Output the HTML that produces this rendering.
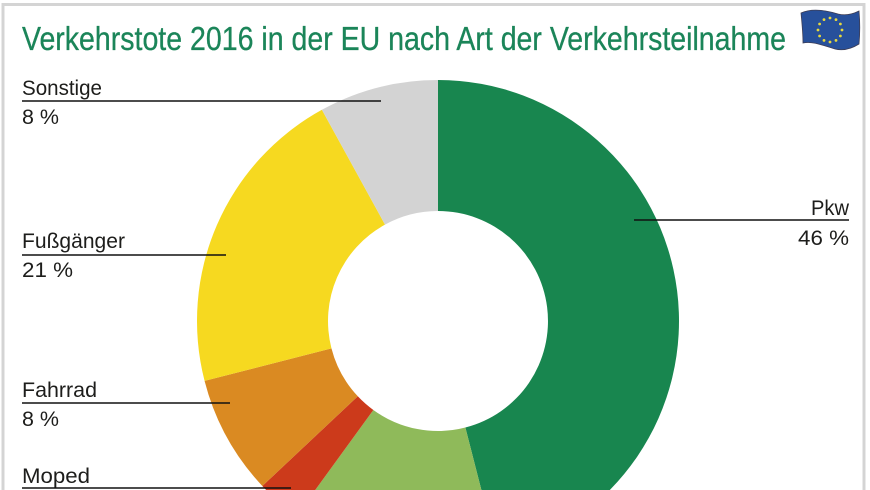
<!DOCTYPE html>
<html lang="de">
<head>
<meta charset="utf-8">
<title>Verkehrstote 2016 in der EU</title>
<style>
html,body{margin:0;padding:0;background:#fff;width:870px;height:490px;overflow:hidden}
svg{display:block;font-family:"Liberation Sans",sans-serif}
</style>
</head>
<body>
<svg id="chart" width="870" height="490" viewBox="0 0 870 490">
  <rect x="0" y="0" width="870" height="490" fill="#fff"/>
  <path d="M3 490V4.500H864V490" fill="none" stroke="#d4d4d4" stroke-width="3"/>
  <text x="22" y="50" font-size="33" fill="#1b8559" stroke="#1b8559" stroke-width="0.3" textLength="764" lengthAdjust="spacingAndGlyphs">Verkehrstote 2016 in der EU nach Art der Verkehrsteilnahme</text>
  <g>
    <path d="M801 13C812 8 825 10 838 14C846 16 853 14 859 11C860 22 860 33 859 44C851 49 843 51 835 49C822 45 812 41 803 43C803 33 802 23 801 13Z" fill="#27509b" stroke="#3d3d55" stroke-width="0.8"/>
    <g id="flag-stars" fill="#e8d93c"></g>
  </g>
  <g id="slices"></g>
  <g id="labels"></g>
</svg>
<script>
const categories = ['Pkw', 'Motorrad', 'Moped', 'Fahrrad', 'Fußgänger', 'Sonstige'];
const shares = [46, 14, 3, 8, 21, 8];
const shareLabels = ['46 %', '14 %', '3 %', '8 %', '21 %', '8 %'];
const colors = ['#18864f', '#8fba5a', '#cc3a1b', '#da8a22', '#f6d920', '#d3d3d3'];

const NS = 'http://www.w3.org/2000/svg';
const CX = 438, CY = 321, R_OUT = 241, R_IN = 110;
const total = shares.reduce((a, b) => a + b, 0);

function angleOf(v) { return v / total * Math.PI * 2; }
function polar(r, a) { return [CX + r * Math.sin(a), CY - r * Math.cos(a)]; }
function fmt(p) { return p[0].toFixed(2) + ' ' + p[1].toFixed(2); }

const sliceLayer = document.getElementById('slices');
let running = 0;
shares.forEach(function (v, i) {
  const a0 = angleOf(running);
  const a1 = angleOf(running + v);
  running += v;
  const large = a1 - a0 > Math.PI ? 1 : 0;
  const d = 'M' + fmt(polar(R_OUT, a0)) +
    'A' + R_OUT + ' ' + R_OUT + ' 0 ' + large + ' 1 ' + fmt(polar(R_OUT, a1)) +
    'L' + fmt(polar(R_IN, a1)) +
    'A' + R_IN + ' ' + R_IN + ' 0 ' + large + ' 0 ' + fmt(polar(R_IN, a0)) + 'Z';
  const path = document.createElementNS(NS, 'path');
  path.setAttribute('d', d);
  path.setAttribute('fill', colors[i]);
  
  
  sliceLayer.appendChild(path);
});

/* Label placement, keyed by category; the Motorrad label and Moped value fall outside the crop. */
const labelLayout = {
  'Pkw':       { anchor: 'end',   x: 849, nameY: 215, lineY: 220, x1: 634, x2: 849, valueY: 245, nameW: 38,  valueW: 51 },
  'Moped':     { anchor: 'start', x: 22,  nameY: 483, lineY: 488, x1: 22,  x2: 291, valueY: null, nameW: 68, valueW: 37 },
  'Fahrrad':   { anchor: 'start', x: 22,  nameY: 397, lineY: 403, x1: 22,  x2: 230, valueY: 426, nameW: 75,  valueW: 37 },
  'Fußgänger': { anchor: 'start', x: 22,  nameY: 248, lineY: 255, x1: 22,  x2: 226, valueY: 277, nameW: 103, valueW: 51 },
  'Sonstige':  { anchor: 'start', x: 22,  nameY: 95,  lineY: 101, x1: 22,  x2: 381, valueY: 124, nameW: 80,  valueW: 37 }
};

function addText(str, x, y, anchor, width, name) {
  const t = document.createElementNS(NS, 'text');
  t.textContent = str;
  t.setAttribute('x', x);
  t.setAttribute('y', y);
  t.setAttribute('font-size', '21');
  t.setAttribute('fill', '#1d1d1b');
  t.setAttribute('text-anchor', anchor);
  t.setAttribute('textLength', width);
  t.setAttribute('lengthAdjust', 'spacingAndGlyphs');
  
  
  document.getElementById('labels').appendChild(t);
}

categories.forEach(function (c, i) {
  const l = labelLayout[c];
  if (!l) return;
  const slug = c.toLowerCase();
  addText(c, l.x, l.nameY, l.anchor, l.nameW, 'label-' + slug);
  if (l.valueY !== null) {
    addText(shareLabels[i], l.x, l.valueY, l.anchor, l.valueW, 'value-' + slug);
  }
  const line = document.createElementNS(NS, 'line');
  line.setAttribute('x1', l.x1);
  line.setAttribute('x2', l.x2);
  line.setAttribute('y1', l.lineY);
  line.setAttribute('y2', l.lineY);
  line.setAttribute('stroke', '#111');
  line.setAttribute('stroke-width', '1.5');
  
  
  document.getElementById('labels').appendChild(line);
});

const starLayer = document.getElementById('flag-stars');
for (let k = 0; k < 12; k++) {
  const a = k / 12 * Math.PI * 2;
  const s = document.createElementNS(NS, 'circle');
  s.setAttribute('cx', (830 + 12 * Math.sin(a)).toFixed(2));
  s.setAttribute('cy', (30 - 12 * Math.cos(a)).toFixed(2));
  s.setAttribute('r', '1.4');
  
  
  starLayer.appendChild(s);
}
</script>
</body>
</html>
